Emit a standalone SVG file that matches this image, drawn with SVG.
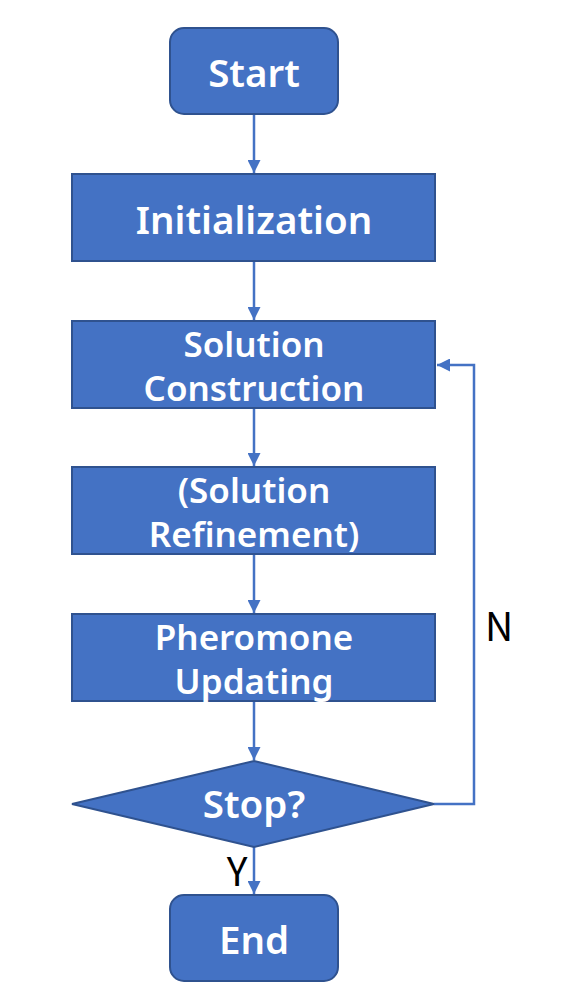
<svg xmlns="http://www.w3.org/2000/svg" width="587" height="989" viewBox="0 0 587 989">
<defs>
<style>
.box{fill:#4472C4;stroke:#2F528F;stroke-width:2}
.lbl{fill:#FFFFFF;font-family:"Noto Sans","DejaVu Sans",sans-serif;font-weight:600;text-anchor:middle}
.big{font-size:38.5px}
.med{font-size:35px}
.conn{fill:none;stroke:#4472C4;stroke-width:2.5}
.yn{fill:#000000;font-family:"Noto Sans CJK SC","Noto Sans",sans-serif;font-size:39px;text-anchor:middle}
</style>
<marker id="arr" viewBox="0 0 10 10" refX="10" refY="5" markerWidth="5.2" markerHeight="5.2" markerUnits="strokeWidth" orient="auto">
<path d="M0,0 L10,5 L0,10 z" fill="#4472C4"/>
</marker>
</defs>
<rect width="587" height="989" fill="#FFFFFF"/>
<g id="connectors">
<line class="conn" x1="254" y1="114" x2="254" y2="173" marker-end="url(#arr)"/>
<line class="conn" x1="254" y1="261" x2="254" y2="320" marker-end="url(#arr)"/>
<line class="conn" x1="254" y1="408" x2="254" y2="466" marker-end="url(#arr)"/>
<line class="conn" x1="254" y1="554" x2="254" y2="613" marker-end="url(#arr)"/>
<line class="conn" x1="254" y1="701" x2="254" y2="760" marker-end="url(#arr)"/>
<line class="conn" x1="254" y1="847" x2="254" y2="894" marker-end="url(#arr)"/>
<polyline class="conn" points="434,804 474,804 474,365 437,365" marker-end="url(#arr)"/>
<text class="yn" x="499" y="641">N</text>
<text class="yn" x="237" y="886">Y</text>
</g>
<g id="start">
<rect class="box" x="170" y="28" width="168" height="86" rx="14"/>
<text class="lbl big" x="254" y="87">Start</text>
</g>
<g id="init">
<rect class="box" x="72" y="174" width="363" height="87"/>
<text class="lbl big" x="254" y="234">Initialization</text>
</g>
<g id="construct">
<rect class="box" x="72" y="321" width="363" height="87"/>
<text class="lbl med" x="254" y="357">Solution</text>
<text class="lbl med" x="254" y="401">Construction</text>
</g>
<g id="refine">
<rect class="box" x="72" y="467" width="363" height="87"/>
<text class="lbl med" x="254" y="503">(Solution</text>
<text class="lbl med" x="254" y="547">Refinement)</text>
</g>
<g id="pheromone">
<rect class="box" x="72" y="614" width="363" height="87"/>
<text class="lbl med" x="254" y="650">Pheromone</text>
<text class="lbl med" x="254" y="694">Updating</text>
</g>
<g id="stop">
<polygon class="box" points="254,761 434,804 254,847 72,804"/>
<text class="lbl big" x="254" y="818">Stop?</text>
</g>
<g id="end">
<rect class="box" x="170" y="895" width="168" height="86" rx="14"/>
<text class="lbl big" x="254" y="954">End</text>
</g>
</svg>
